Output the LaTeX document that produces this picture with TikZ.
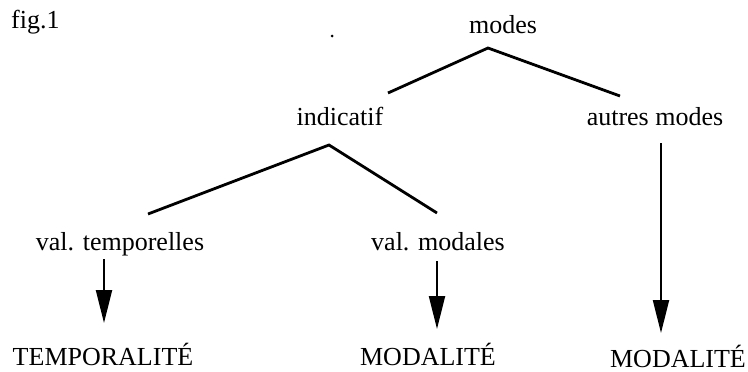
\documentclass[tikz,border=0pt]{standalone}
\usepackage{fontspec}
\setmainfont{Liberation Serif}
\usetikzlibrary{arrows.meta}
\begin{document}
\begin{tikzpicture}[x=1pt,y=-1pt,
  lbl/.style={anchor=base,inner sep=0pt,font=\fontsize{26}{31}\selectfont},
  branch/.style={line width=2.8pt},
  downarrow/.style={line width=2.2pt,-{Triangle[length=33pt,width=16pt]}}]
\useasboundingbox (0,0) rectangle (748,372);
\node[lbl,anchor=base west] (fig) at (11,28) {fig.1};
\node[lbl] (modes) at (503,33) {modes};
\node[lbl] (ind) at (340,125) {indicatif};
\node[lbl] (autres) at (655,125) {autres modes};
\node[lbl] (valt) at (120,250) {val. temporelles};
\node[lbl] (valm) at (438,250) {val. modales};
\node[lbl] (temp) at (103,365) {TEMPORALITÉ};
\node[lbl] (moda) at (428,365) {MODALITÉ};
\node[lbl] (modb) at (678,367) {MODALITÉ};
\fill (332,36) circle (1.5pt);
% tree branches
\coordinate (a1) at (488,48);
\coordinate (a1l) at (388,93);
\coordinate (a1r) at (620,96);
\coordinate (a2) at (329,145);
\coordinate (a2l) at (148,214);
\coordinate (a2r) at (437,213);
\draw[branch] (a1l) -- (a1) -- (a1r);
\draw[branch] (a2l) -- (a2) -- (a2r);
% arrows
\coordinate (s1) at (104,259);
\coordinate (e1) at (104,323);
\coordinate (s2) at (437,261);
\coordinate (e2) at (437,329);
\coordinate (s3) at (661,143);
\coordinate (e3) at (661,333);
\draw[downarrow] (s1) -- (e1);
\draw[downarrow] (s2) -- (e2);
\draw[downarrow] (s3) -- (e3);
\end{tikzpicture}
\end{document}
